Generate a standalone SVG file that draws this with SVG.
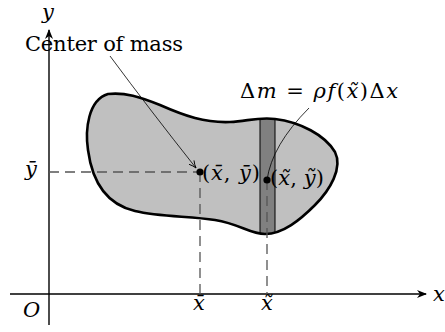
<svg xmlns="http://www.w3.org/2000/svg" width="445" height="332" viewBox="0 0 445 332" font-family="DejaVu Serif">
<style>
text{font-size:21px;fill:#000}
.it{font-style:italic}
.axis{stroke:#000;stroke-width:1.4;fill:none}
.dash{stroke:#555;stroke-width:1.3;stroke-dasharray:10 6;fill:none}
.thin{stroke:#000;stroke-width:0.8;fill:none}
</style>
<defs>
<marker id="stealth" viewBox="0 0 10 10" refX="9" refY="5" markerWidth="10" markerHeight="10" markerUnits="userSpaceOnUse" orient="auto">
<path d="M0,1 L10,5 L0,9 L3,5 Z" fill="#000"/>
</marker>
<marker id="open" viewBox="0 0 10 10" refX="9" refY="5" markerWidth="9" markerHeight="9" markerUnits="userSpaceOnUse" orient="auto">
<path d="M1,1.5 Q5,4 9,5 Q5,6 1,8.5" fill="none" stroke="#000" stroke-width="1"/>
</marker>
<path id="blobShape" d="M108,94 C125,92 140,97 160,105 C185,116 205,123 230,122 C248,121 258,117 275,119 C300,122 325,135 335,152 C343,168 330,190 315,205 C300,220 283,234 265,234 C250,234 240,224 215,220 C190,216 160,217 135,211 C105,204 92,180 88,150 C85,130 88,100 108,94 Z"/>
<clipPath id="blobClip"><use href="#blobShape"/></clipPath>
</defs>

<g id="region">
<use href="#blobShape" fill="#c0c0c0"/>
<g clip-path="url(#blobClip)">
<rect x="260" y="80" width="15" height="180" fill="#808080" stroke="#000" stroke-width="1"/>
</g>
<use href="#blobShape" fill="none" stroke="#000" stroke-width="2.6"/>
</g>

<g id="axes">
<line class="axis" x1="10" y1="294" x2="426" y2="294" marker-end="url(#stealth)"/>
<line class="axis" x1="49" y1="325" x2="49" y2="30" marker-end="url(#stealth)"/>
<text class="it" x="433" y="301">x</text>
<text class="it" x="42" y="19">y</text>
<text class="it" x="23" y="317">O</text>
</g>

<g id="connectors">
<path class="dash" d="M49,172 H200"/>
<path class="dash" d="M200,172 V294"/>
<path class="dash" d="M267,180 V294"/>
<path class="thin" d="M110,56 Q150,110 196,168" marker-end="url(#open)"/>
<path class="thin" d="M309,108 Q272,145 267,180"/>
</g>

<g id="center">
<circle cx="200" cy="172" r="3.6" fill="#000"/>
<text x="202" y="180" textLength="58" lengthAdjust="spacing">(<tspan class="it">x̄</tspan>, <tspan class="it">ȳ</tspan>)</text>
</g>

<g id="element">
<circle cx="267" cy="180" r="3.6" fill="#000"/>
<text x="270" y="185" textLength="54" lengthAdjust="spacing">(<tspan class="it">x̃</tspan>, <tspan class="it">ỹ</tspan>)</text>
</g>

<g id="labels">
<text x="25" y="51" textLength="158" lengthAdjust="spacing">Center of mass</text>
<text x="240" y="98" textLength="158" lengthAdjust="spacing">Δ<tspan class="it">m</tspan> = <tspan class="it">ρf</tspan>(<tspan class="it">x̃</tspan>)Δ<tspan class="it">x</tspan></text>
<text class="it" x="25" y="176">ȳ</text>
<text class="it" x="193" y="310">x̄</text>
<text class="it" x="261" y="310">x̃</text>
</g>
</svg>
